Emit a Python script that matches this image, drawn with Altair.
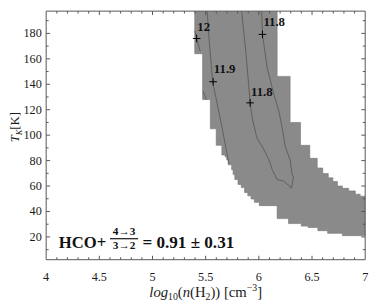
import bisect
import altair as alt
import pandas as pd

FONT = "Liberation Serif"
W, H = 326, 254

# ---------------- data ----------------
# allowed region (step boundaries): lower edge and upper edge, each a step function of log10 n
lower_x = [5.397, 5.471, 5.544, 5.599, 5.652, 5.682, 5.698, 5.712, 5.744, 5.758, 5.774,
           5.804, 5.835, 5.866, 5.896, 5.927, 5.958, 6.004, 6.172, 6.279, 6.399, 6.463,
           6.555, 6.647, 6.785]
lower_y = [164, 128, 105, 92, 84.4, 83, 80.5, 76.7, 72.8, 69, 65.1,
           61.3, 58.8, 54.9, 52.3, 49.8, 47.2, 44.6, 34.4, 30.5, 28.5, 27.4,
           24.9, 22.8, 21]
upper_x = [5.397, 6.172, 6.294, 6.392, 6.479, 6.549, 6.601, 6.653, 6.696, 6.739, 6.785,
           6.845, 6.907, 6.953]
upper_y = [200, 146.2, 110, 92, 81.8, 74.2, 69.8, 66.5, 63.5, 60, 58.2,
           56.2, 53.6, 52]
x_end = 7.0

# contour lines
c118_x = [5.835, 5.881, 5.918, 5.939, 5.976, 5.988, 6.034, 6.096, 6.126, 6.172, 6.233,
          6.295, 6.305, 6.310, 6.325, 6.310, 6.295, 6.249, 6.218, 6.188, 6.142, 6.080,
          6.034, 6.025]
c118_y = [199.8, 162.6, 125.4, 112.8, 99.8, 96.7, 90.8, 80.5, 72.8, 65.1, 63.8,
          59.5, 58.3, 60, 66.5, 70.3, 80.5, 90.8, 106.2, 119, 131.8, 152.3,
          179.2, 199.8]
c119_x = [5.512, 5.535, 5.565, 5.645, 5.719]
c119_y = [199.8, 172.8, 142.1, 109.8, 77.4]
c12a_x = [5.397, 5.448]
c12a_y = [182.1, 165.9]
c12b_x = [5.475, 5.507]
c12b_y = [134.4, 127.8]

# marked points and their labels
cross_x = [5.415, 5.570, 6.034, 5.918]
cross_y = [176.0, 142.0, 179.2, 125.4]
lab_text = ["12", "11.9", "11.8", "11.8"]
lab_x = [5.421, 5.577, 6.043, 5.927]
lab_y = [185.2, 151.7, 188.6, 133.8]

# axes
x_labels = [4, 4.5, 5, 5.5, 6, 6.5, 7]
x_label_text = ["4", "4.5", "5", "5.5", "6", "6.5", "7"]
y_labels = [20, 40, 60, 80, 100, 120, 140, 160, 180]
y_label_text = ["20", "40", "60", "80", "100", "120", "140", "160", "180"]
x_major = [4.5, 5, 5.5, 6, 6.5]
x_minor = [4.1, 4.2, 4.3, 4.4, 4.6, 4.7, 4.8, 4.9, 5.1, 5.2, 5.3, 5.4, 5.6, 5.7, 5.8,
           5.9, 6.1, 6.2, 6.3, 6.4, 6.6, 6.7, 6.8, 6.9]
y_major = y_labels
y_minor = [10, 30, 50, 70, 90, 110, 130, 150, 170, 190]

# ---------------- tables ----------------
def step_at(xs, ys, v):
    return ys[bisect.bisect_right(xs, v + 1e-9) - 1]

bps = sorted(set(lower_x + upper_x))
region = pd.DataFrame({
    "x": bps + [x_end],
    "lo": [step_at(lower_x, lower_y, b) for b in bps] + [lower_y[-1]],
    "hi": [step_at(upper_x, upper_y, b) for b in bps] + [upper_y[-1]],
})

lines = pd.concat([
    pd.DataFrame({"x": xs, "y": ys, "id": name, "o": range(len(xs))})
    for name, xs, ys in [("c118", c118_x, c118_y), ("c119", c119_x, c119_y),
                         ("c12a", c12a_x, c12a_y), ("c12b", c12b_x, c12b_y)]
])
crosses = pd.DataFrame({"x": cross_x, "y": cross_y})
labels = pd.DataFrame({"x": lab_x, "y": lab_y, "t": lab_text})

XS = alt.Scale(domain=[4, 7], nice=False, zero=False)
YS = alt.Scale(domain=[2.1, 197.5], nice=False, zero=False)
dummy = pd.DataFrame({"a": [0]})

hidden = dict(labels=False, ticks=False, domain=False, grid=False, title=None)
area = alt.Chart(region).mark_area(
    interpolate="step-after", color="#8a8a8a", stroke="#747474", strokeWidth=0.6, clip=True
).encode(
    x=alt.X("x:Q", scale=XS, axis=alt.Axis(**hidden)),
    y=alt.Y("hi:Q", scale=YS, axis=alt.Axis(**hidden)),
    y2="lo:Q",
)

contours = alt.Chart(lines).mark_line(color="#555555", strokeWidth=0.8, clip=True).encode(
    x=alt.X("x:Q", scale=XS, axis=None),
    y=alt.Y("y:Q", scale=YS, axis=None),
    detail="id:N",
    order="o:Q",
)

pts = alt.Chart(crosses).mark_point(
    shape="M-1,0L1,0M0,-1L0,1", size=60, stroke="black", strokeWidth=1, filled=False, opacity=1
).encode(x=alt.X("x:Q", scale=XS, axis=None), y=alt.Y("y:Q", scale=YS, axis=None))

lab = alt.Chart(labels).mark_text(
    align="left", baseline="middle", font=FONT, fontSize=13, fontWeight="bold", color="#111"
).encode(x=alt.X("x:Q", scale=XS, axis=None), y=alt.Y("y:Q", scale=YS, axis=None), text="t:N")

# ---------------- tick labels ----------------
xlab = alt.Chart(pd.DataFrame({"v": x_labels, "t": x_label_text})).mark_text(
    align="center", baseline="top", font=FONT, fontSize=12.5, color="#1a1a1a"
).encode(x=alt.X("v:Q", scale=XS, axis=None), y=alt.value(H + 12), text="t:N")

ylab = alt.Chart(pd.DataFrame({"v": y_labels, "t": y_label_text})).mark_text(
    align="right", baseline="middle", font=FONT, fontSize=12.5, color="#1a1a1a"
).encode(y=alt.Y("v:Q", scale=YS, axis=None), x=alt.value(-4.5), text="t:N")

# ---------------- annotation ----------------
def dtext(s, x, y, size, align="left", bold=True):
    return alt.Chart(dummy).mark_text(
        text=s, align=align, baseline="alphabetic", font=FONT, fontSize=size,
        fontWeight="bold" if bold else "normal", color="#111"
    ).encode(x=alt.datum(x), y=alt.datum(y))

annot = [
    dtext("HCO+", 4.119, 11.5, 17),
    dtext("4\u21923", 4.732, 21.6, 11.5, align="center"),
    dtext("3\u21922", 4.732, 10.3, 11.5, align="center"),
    dtext("= 0.91 \u00b1 0.31", 4.905, 11.5, 17.5),
    alt.Chart(dummy).mark_rule(color="#111", strokeWidth=1.2).encode(
        x=alt.datum(4.600), x2=alt.datum(4.864), y=alt.datum(18.6)),
]

# ---------------- inward frame ticks ----------------
TICK = "#555555"
def xticks(vals, ln, side):
    y0, y1 = (H, H - ln) if side == "bottom" else (0, ln)
    return alt.Chart(pd.DataFrame({"v": vals})).mark_rule(color=TICK, strokeWidth=1).encode(
        x=alt.X("v:Q", scale=XS, axis=None), y=alt.value(y0), y2=alt.value(y1))

def yticks(vals, ln, side):
    x0, x1 = (0, ln) if side == "left" else (W, W - ln)
    return alt.Chart(pd.DataFrame({"v": vals})).mark_rule(color=TICK, strokeWidth=1).encode(
        y=alt.Y("v:Q", scale=YS, axis=None), x=alt.value(x0), x2=alt.value(x1))

ticks = [xticks(x_major, 4, s) for s in ("bottom", "top")] + \
        [xticks(x_minor, 2.5, s) for s in ("bottom", "top")] + \
        [yticks(y_major, 4, s) for s in ("left", "right")] + \
        [yticks(y_minor, 2.5, s) for s in ("left", "right")]

frame = alt.Chart(dummy).mark_rect(fillOpacity=0, stroke="#555555", strokeWidth=1).encode(
    x=alt.value(0), x2=alt.value(W), y=alt.value(0), y2=alt.value(H))

# ---------------- axis titles (rich text) ----------------
W_REG = {"(": 333, ")": 333, "H": 722, " ": 250, "[": 333, "]": 333, "c": 444, "m": 778,
         "K": 722, "\u2212": 564, "l": 278, "o": 500, "g": 500, "n": 500}
W_IT = {"l": 278, "o": 500, "g": 500, "n": 500, "T": 556, "K": 667}

def tw(s, size, italic):
    tbl = W_IT if italic else W_REG
    return sum(tbl.get(c, 500) for c in s) * size / 1000

def ptext(s, px, py, size, italic, angle=0):
    kw = dict(text=s, align="left", baseline="alphabetic", font=FONT, fontSize=size,
              fontStyle="italic" if italic else "normal", color="#1a1a1a")
    if angle:
        kw["angle"] = angle
    return alt.Chart(dummy).mark_text(**kw).encode(x=alt.value(px), y=alt.value(py))

xt_pieces = [("log", 15, True, 0), ("10", 10, False, 3.5), ("(", 15, False, 0),
             ("n", 15, True, 0), ("(H", 15, False, 0), ("2", 10, False, 3.5),
             (")) [cm", 15, False, 0), ("\u22123", 10, False, -6), ("]", 15, False, 0)]
total = sum(tw(s, sz, it) for s, sz, it, _ in xt_pieces)
cx = W / 2 - total / 2
xtitle = []
for s, sz, it, sh in xt_pieces:
    xtitle.append(ptext(s, cx, H + 38 + sh, sz, it))
    cx += tw(s, sz, it)

yt_pieces = [("T", 13, True, 0), ("K", 8.5, True, 3), (" [K]", 13, False, 0)]
cy = 134
ytitle = []
for s, sz, it, sh in yt_pieces:
    ytitle.append(ptext(s, -27.5 + sh, cy, sz, it, angle=270))
    cy -= tw(s, sz, it)

chart = alt.layer(
    area, contours, pts, lab, xlab, ylab, *annot, *ticks, frame, *xtitle, *ytitle
).properties(
    width=W, height=H,
    padding={"left": 39, "top": 0, "right": 9, "bottom": 39},
    autosize=alt.AutoSizeParams(type="none"),
).configure_view(stroke=None)

chart.save("out.html", embed_options={"renderer": "svg", "actions": False})
